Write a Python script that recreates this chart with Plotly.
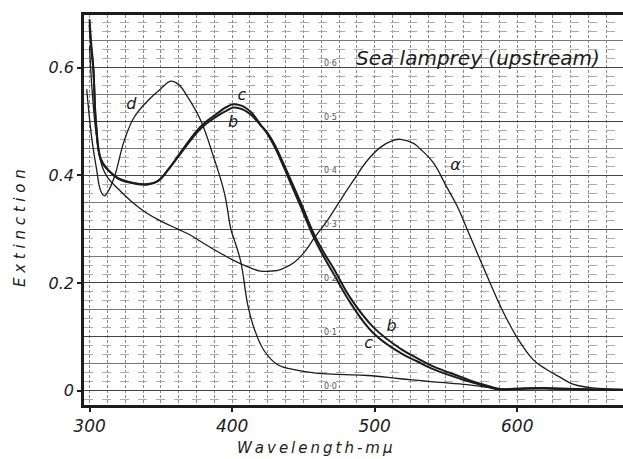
import plotly.graph_objects as go

# ---------------- data ----------------
wl_a = [300, 302, 305, 309, 313, 320, 330, 340, 350, 362, 370, 378, 390, 401, 412, 420, 427,
        434, 443, 450, 458, 467, 476, 485, 495, 504, 513, 518, 527, 532, 541, 550, 558, 565,
        573, 581, 588, 600, 611, 620, 630, 639, 650, 674]
ext_a = [0.64, 0.55, 0.47, 0.415, 0.395, 0.375, 0.35, 0.33, 0.315, 0.30, 0.29, 0.277, 0.258,
         0.242, 0.229, 0.222, 0.222, 0.225, 0.237, 0.255, 0.285, 0.317, 0.354, 0.39, 0.428,
         0.452, 0.465, 0.467, 0.46, 0.449, 0.424, 0.381, 0.342, 0.299, 0.249, 0.20, 0.158,
         0.098, 0.058, 0.04, 0.025, 0.012, 0.006, 0.002]

wl_b = [300, 301, 302.6, 304.7, 308, 313, 320, 331, 341, 348, 355, 364, 378, 390, 396, 401,
        407, 413, 420, 425, 430, 436, 440, 448, 457, 464, 471, 483, 499, 518, 530, 541, 560,
        570, 579, 588, 600, 620, 640, 674]
ext_b = [0.68, 0.64, 0.60, 0.49, 0.428, 0.41, 0.395, 0.386, 0.384, 0.39, 0.41, 0.441, 0.487,
         0.511, 0.52, 0.526, 0.523, 0.513, 0.493, 0.478, 0.456, 0.422, 0.398, 0.35, 0.293,
         0.258, 0.228, 0.172, 0.118, 0.078, 0.06, 0.045, 0.026, 0.016, 0.009, 0.003, 0.004,
         0.005, 0.003, 0.001]

wl_c = wl_b
ext_c = [0.69, 0.65, 0.60, 0.49, 0.43, 0.41, 0.394, 0.385, 0.383, 0.389, 0.41, 0.443, 0.491,
         0.516, 0.527, 0.532, 0.529, 0.518, 0.494, 0.476, 0.452, 0.417, 0.392, 0.343, 0.286,
         0.25, 0.218, 0.163, 0.107, 0.07, 0.054, 0.04, 0.022, 0.014, 0.007, 0.002, 0.003,
         0.004, 0.002, 0.001]

wl_d = [298, 300, 302, 304.7, 308, 310.4, 313, 317.4, 324.4, 331.3, 341, 350, 357, 362, 369,
        378, 387, 394.6, 399.2, 401.3, 406, 411, 415.4, 422.5, 432, 443.5, 457.5, 475, 495,
        518, 541, 565, 579, 590, 610, 640, 674]
ext_d = [0.56, 0.505, 0.46, 0.415, 0.37, 0.362, 0.37, 0.397, 0.465, 0.508, 0.539, 0.561,
         0.575, 0.57, 0.545, 0.502, 0.434, 0.367, 0.299, 0.282, 0.24, 0.159, 0.116, 0.074,
         0.048, 0.039, 0.033, 0.030, 0.028, 0.022, 0.016, 0.011, 0.006, 0.003, 0.004, 0.003,
         0.002]

# chart-paper scale printed inside the grid
paper_scale_vals = [0.0, 0.1, 0.2, 0.3, 0.4, 0.5, 0.6]
paper_scale_text = ["0·0", "0·1", "0·2", "0·3", "0·4", "0·5", "0·6"]
paper_scale_wl = 469

y_tick_vals = [0, 0.2, 0.4, 0.6]
y_tick_text = ["0", "0.2", "0.4", "0.6"]
x_tick_vals = [300, 400, 500, 600]
x_tick_text = ["300", "400", "500", "600"]

curve_labels = ["d", "c", "b", "α", "b", "c"]
curve_label_wl = [329.3, 406.9, 400.6, 556.7, 511.8, 495.7]
curve_label_ext = [0.53, 0.548, 0.498, 0.417, 0.119, 0.086]

title_text = "Sea lamprey (upstream)"
x_title = "W\u2009a\u2009v\u2009e\u2009l\u2009e\u2009n\u2009g\u2009t\u2009h\u2009-\u2009m\u2009μ"
y_title = "E x t i n c t i o n"

# ---------------- figure ----------------
INK = "#1c1c1c"
FONT = "DejaVu Sans"

fig = go.Figure()

for wl, ext, w in [(wl_a, ext_a, 1.3), (wl_d, ext_d, 1.3), (wl_b, ext_b, 2.0), (wl_c, ext_c, 2.0)]:
    fig.add_trace(go.Scatter(x=wl, y=ext, mode="lines",
                             line=dict(color=INK, width=w, shape="spline", smoothing=1.2),
                             showlegend=False, hoverinfo="skip"))

fig.add_trace(go.Scatter(x=[paper_scale_wl] * len(paper_scale_vals), y=paper_scale_vals,
                         yaxis="y2", mode="text", text=paper_scale_text,
                         textposition="top center",
                         textfont=dict(family=FONT, size=8, color="#555"),
                         showlegend=False, hoverinfo="skip"))

fig.add_trace(go.Scatter(x=curve_label_wl, y=curve_label_ext, mode="text",
                         text=curve_labels,
                         textfont=dict(family=FONT, size=16, color=INK, style="italic"),
                         showlegend=False, hoverinfo="skip"))

y_range = [-0.0268, 0.698]
x_range = [296.1, 674.2]

fig.update_layout(
    width=623, height=459,
    margin=dict(l=84, r=0, t=15, b=54),
    paper_bgcolor="white", plot_bgcolor="white",
    xaxis=dict(range=x_range, tickmode="array", tickvals=x_tick_vals, ticktext=x_tick_text,
               ticks="outside", ticklen=4, tickcolor=INK, tickwidth=1.5,
               tickfont=dict(family=FONT, size=17, color=INK, style="italic"),
               showline=True, linecolor=INK, linewidth=2.6, mirror=True,
               showgrid=True, gridcolor="#8a8a8a", gridwidth=1, griddash="3px,2px",
               minor=dict(tick0=300, dtick=12.5, showgrid=True, gridcolor="#8a8a8a",
                          gridwidth=1, griddash="3px,2px", ticks=""),
               zeroline=False),
    yaxis=dict(range=y_range, tickmode="array", tickvals=y_tick_vals, ticktext=y_tick_text,
               ticks="outside", ticklen=4, tickcolor=INK, tickwidth=1.5,
               tickfont=dict(family=FONT, size=16, color=INK, style="italic"),
               showline=True, linecolor=INK, linewidth=2.6, mirror=False,
               showgrid=True, gridcolor="#444", gridwidth=1.4,
               minor=dict(tick0=0, dtick=1/60, showgrid=True, gridcolor="#acacac",
                          gridwidth=1, griddash="dash", ticks=""),
               zeroline=False),
    yaxis2=dict(range=y_range, overlaying="y", side="right", showticklabels=False,
                ticks="", showline=False, zeroline=False,
                tickmode="linear", tick0=0.1, dtick=0.2,
                showgrid=True, gridcolor="#444", gridwidth=1.4,
                minor=dict(tick0=0.05, dtick=0.1, showgrid=True, gridcolor="#777",
                           gridwidth=1, ticks="")),
    annotations=[
        dict(text=title_text, xref="paper", yref="paper", x=0.7306, y=0.890,
             showarrow=False, xanchor="center", yanchor="middle",
             font=dict(family=FONT, size=20, color=INK, style="italic")),
        dict(text=y_title, xref="paper", yref="paper", x=-0.1185, y=0.454,
             showarrow=False, textangle=-90, xanchor="center", yanchor="middle",
             font=dict(family=FONT, size=15, color=INK, style="italic")),
        dict(text=x_title, xref="paper", yref="paper", x=0.4278, y=-0.1097,
             showarrow=False, xanchor="center", yanchor="middle",
             font=dict(family=FONT, size=15, color=INK, style="italic")),
    ],
)

fig.write_html("out.html")
